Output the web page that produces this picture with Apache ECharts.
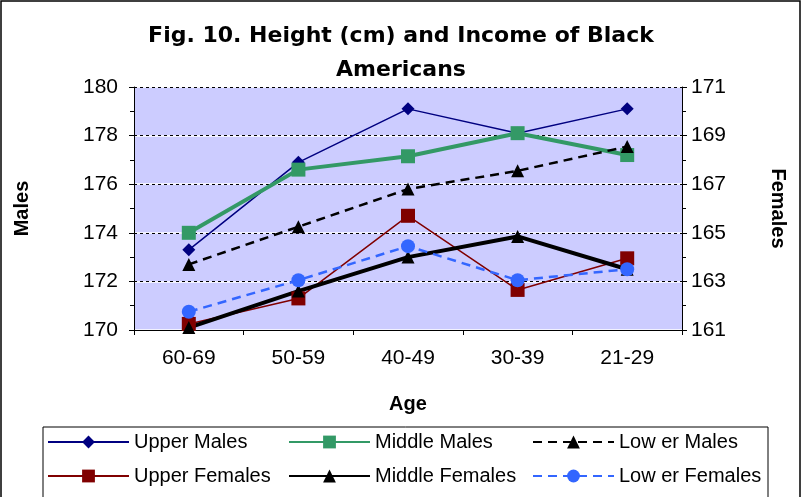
<!DOCTYPE html>
<html><head><meta charset="utf-8">
<script src="https://cdn.jsdelivr.net/npm/echarts@6/dist/echarts.min.js"></script>
<style>html,body{margin:0;padding:0;background:#fff}#c{width:802px;height:497px}</style>
</head><body><div id="c"></div>
<script>
const categories = ['60-69', '50-59', '40-49', '30-39', '21-29'];
const upperMales = [173.3, 176.9, 179.1, 178.1, 179.1];
const middleMales = [174.0, 176.6, 177.15, 178.1, 177.2];
const lowerMales = [172.7, 174.25, 175.8, 176.55, 177.55];
const upperFemales = [161.25, 162.3, 165.7, 162.65, 163.95];
const middleFemales = [161.1, 162.6, 164.0, 164.85, 163.5];
const lowerFemales = [161.75, 163.05, 164.45, 163.05, 163.5];
const seriesNames = ['Upper Males', 'Middle Males', 'Low er Males', 'Upper Females', 'Middle Females', 'Low er Females'];
const maleRange = [170, 180];
const femaleRange = [161, 171];

const FONT = 'Liberation Sans, Arial, sans-serif';
const chart = echarts.init(document.getElementById('c'), null, {renderer: 'canvas'});

function mk(name, data, yIdx, color, width, symbol, size, dashed) {
  return {
    name: name, type: 'line', data: data, yAxisIndex: yIdx,
    symbol: symbol, symbolSize: size, showSymbol: true,
    lineStyle: {color: color, width: width, type: dashed ? [9, 6] : 'solid'},
    itemStyle: {color: color, borderWidth: 0},
    emphasis: {disabled: true}, animation: false
  };
}

const legendBase = {
  orient: 'vertical', top: 432, padding: 0, itemWidth: 81, itemHeight: 16, itemGap: 14,
  textStyle: {fontFamily: FONT, fontSize: 20, color: '#000', lineHeight: 20},
  selectedMode: false
};

chart.setOption({
  animation: false,
  backgroundColor: '#fff',
  title: {
    text: 'Fig. 10. Height (cm) and Income of Black\nAmericans',
    left: 'center', top: 14,
    textStyle: {fontFamily: 'DejaVu Sans, sans-serif', fontSize: 22, fontWeight: 'bold', color: '#000', lineHeight: 34}
  },
  legend: [
    Object.assign({}, legendBase, {left: 47, data: [seriesNames[0], seriesNames[3]]}),
    Object.assign({}, legendBase, {left: 288, data: [seriesNames[1], seriesNames[4]]}),
    Object.assign({}, legendBase, {left: 532, data: [seriesNames[2], seriesNames[5]]})
  ],
  graphic: [
    {type: 'rect', shape: {x: 1, y: 1, width: 799, height: 520}, style: {fill: 'none', stroke: '#000', lineWidth: 1.5}, silent: true},
    {type: 'rect', shape: {x: 43, y: 427, width: 725, height: 90}, style: {fill: 'none', stroke: '#000', lineWidth: 1}, silent: true}
  ],
  grid: {left: 134, right: 120, top: 87, bottom: 167, show: true, backgroundColor: '#CCCCFF', borderWidth: 0},
  xAxis: {
    type: 'category', data: categories, boundaryGap: true,
    name: 'Age', nameLocation: 'middle', nameGap: 64,
    nameTextStyle: {fontFamily: FONT, fontSize: 20, fontWeight: 'bold', color: '#000'},
    axisLine: {lineStyle: {color: '#000', width: 1}},
    axisTick: {show: true, alignWithLabel: false, length: 5, lineStyle: {color: '#000'}},
    axisLabel: {fontFamily: FONT, fontSize: 21, color: '#000', margin: 18},
    splitLine: {show: false}
  },
  yAxis: [
    {
      type: 'value', position: 'left', min: maleRange[0], max: maleRange[1], interval: 2,
      name: 'Males', nameLocation: 'middle', nameGap: 102, nameRotate: 90,
      nameTextStyle: {fontFamily: FONT, fontSize: 20, fontWeight: 'bold', color: '#000'},
      axisLine: {show: true, lineStyle: {color: '#000', width: 1}},
      axisTick: {show: true, length: 5, lineStyle: {color: '#000'}},
      minorTick: {show: true, splitNumber: 2, length: 4, lineStyle: {color: '#000'}},
      axisLabel: {fontFamily: FONT, fontSize: 21, color: '#000', margin: 16},
      splitLine: {show: true, lineStyle: {color: '#ffffff', width: 1.5, type: 'solid'}}
    },
    {
      type: 'value', position: 'right', min: femaleRange[0], max: femaleRange[1], alignTicks: true,
      name: 'Females', nameLocation: 'middle', nameGap: 86, nameRotate: -90,
      nameTextStyle: {fontFamily: FONT, fontSize: 20, fontWeight: 'bold', color: '#000'},
      axisLine: {show: true, lineStyle: {color: '#000', width: 1}},
      axisTick: {show: true, length: 5, lineStyle: {color: '#000'}},
      minorTick: {show: true, splitNumber: 2, length: 4, lineStyle: {color: '#000'}},
      axisLabel: {fontFamily: FONT, fontSize: 21, color: '#000', margin: 9},
      splitLine: {show: true, lineStyle: {color: '#000', width: 1, type: [3, 3]}}
    }
  ],
  series: [
    mk(seriesNames[0], upperMales, 0, '#000080', 1.5, 'diamond', 13, false),
    mk(seriesNames[1], middleMales, 0, '#339966', 4, 'rect', 14, false),
    mk(seriesNames[2], lowerMales, 0, '#000000', 2.5, 'triangle', 13, true),
    mk(seriesNames[3], upperFemales, 1, '#800000', 1.5, 'rect', 14, false),
    mk(seriesNames[4], middleFemales, 1, '#000000', 4, 'triangle', 13, false),
    mk(seriesNames[5], lowerFemales, 1, '#3366FF', 2.5, 'circle', 14, true)
  ]
});
</script>
</body></html>
